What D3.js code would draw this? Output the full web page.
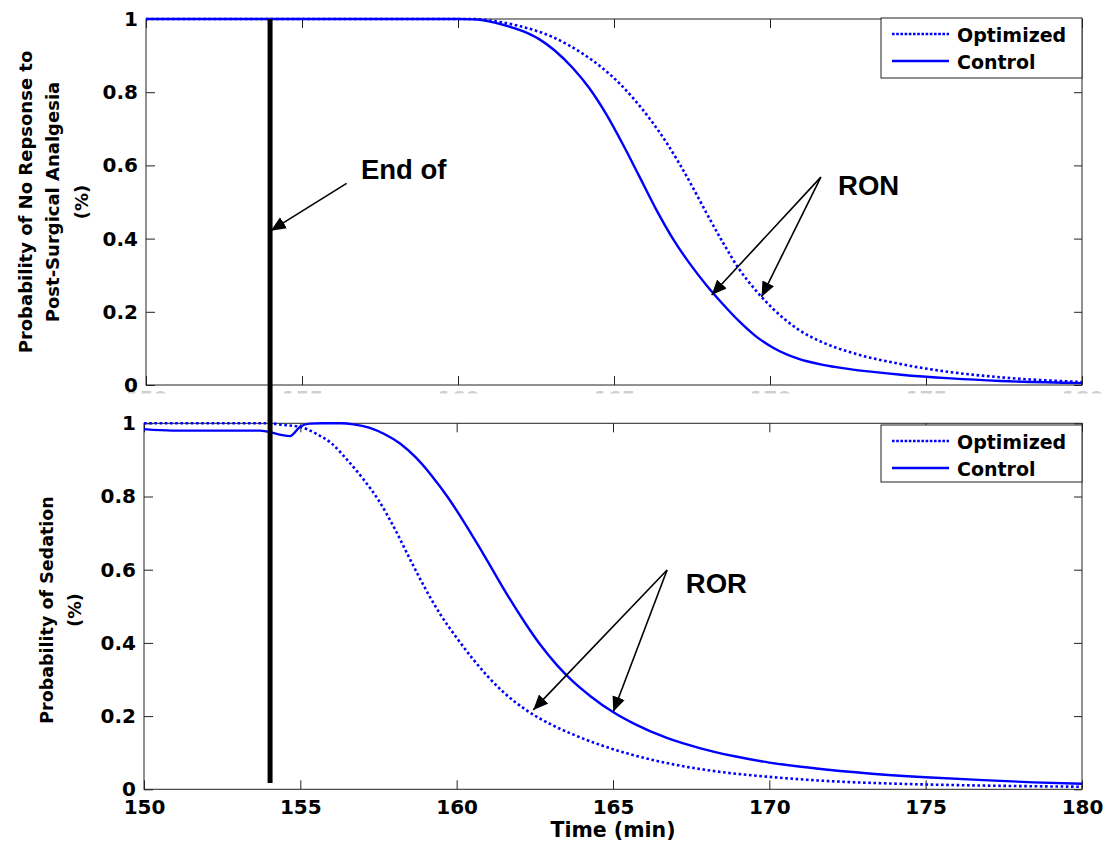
<!DOCTYPE html>
<html><head><meta charset="utf-8">
<script src="https://cdn.jsdelivr.net/npm/d3@7/dist/d3.min.js"></script>
<style>body{margin:0;background:#fff}svg{display:block}</style>
</head><body><svg id="c" width="1119" height="844"></svg>
<script>
// ---------- data ----------
const timeTicks = [150, 155, 160, 165, 170, 175, 180];
const probTicks = [0, 0.2, 0.4, 0.6, 0.8, 1];
const seriesNames = ["Optimized", "Control"];
const xTitle = "Time (min)";
const topYTitle = ["Probability of No Repsonse to", "Post-Surgical Analgesia", "(%)"];
const botYTitle = ["Probability of Sedation", "(%)"];
const endOfSurgery = 154;

// [time (min), probability]
const topOptimized = [[150,1],[160.5,1],[161.0,0.996],[162.0,0.980],[163.0,0.952],[164.0,0.905],[164.6,0.868],[165.2,0.822],[165.6,0.785],[166.15,0.727],[166.7,0.660],[167.1,0.604],[167.55,0.536],[167.95,0.472],[168.5,0.388],[169.0,0.318],[169.55,0.258],[170.1,0.208],[170.9,0.152],[171.7,0.116],[172.55,0.090],[174.2,0.057],[175.8,0.035],[177.4,0.021],[180,0.008]];
const topControl = [[150,1],[160,1],[160.5,0.999],[161.5,0.983],[162.1,0.966],[162.6,0.945],[163.1,0.914],[163.7,0.864],[164.2,0.812],[164.75,0.740],[165.3,0.655],[165.8,0.572],[166.35,0.480],[166.9,0.398],[167.4,0.335],[167.95,0.274],[168.5,0.220],[169.0,0.175],[169.55,0.133],[170.1,0.102],[170.9,0.072],[171.7,0.055],[172.5,0.044],[174.2,0.028],[175.8,0.018],[177.4,0.011],[180,0.005]];
const botOptimized = [[150,1],[154.0,1],[154.4,0.996],[155.0,0.990],[155.5,0.972],[156.0,0.945],[156.5,0.900],[157.0,0.849],[157.5,0.790],[158.0,0.715],[158.5,0.630],[159.0,0.548],[159.5,0.475],[160.0,0.414],[160.5,0.358],[161.0,0.308],[161.5,0.265],[162.25,0.215],[163.0,0.178],[163.8,0.147],[164.6,0.121],[165.5,0.097],[166.7,0.072],[168.3,0.049],[170,0.034],[172,0.022],[174.2,0.015],[176.3,0.011],[180,0.007]];
const botControl = [[150,0.984],[150.9,0.98],[153.7,0.98],[154.67,0.965],[155.0,0.991],[155.3,0.999],[155.7,1],[156.3,1],[156.7,0.997],[157.2,0.988],[157.7,0.970],[158.2,0.944],[158.7,0.906],[159.2,0.857],[159.7,0.800],[160.2,0.735],[160.7,0.665],[161.2,0.592],[161.7,0.520],[162.2,0.453],[162.7,0.392],[163.2,0.340],[163.7,0.296],[164.3,0.253],[165.0,0.211],[165.7,0.178],[166.7,0.141],[167.8,0.112],[168.85,0.091],[170,0.073],[171.5,0.057],[173.1,0.044],[175,0.033],[176.85,0.025],[178.45,0.019],[180,0.015]];

// annotations in data coordinates [time, prob]
const endLabel = {text: "End of", at: [156.89, 0.562], from: [156.43, 0.551], to: [[154.0, 0.4216]]};
const ronLabel = {text: "RON", at: [172.18, 0.519], from: [171.63, 0.568], to: [[168.13, 0.246], [169.73, 0.241]]};
const rorLabel = {text: "ROR", at: [167.33, 0.536], from: [166.73, 0.599], to: [[162.45, 0.217], [165.01, 0.212]]};

// ---------- drawing ----------
const svg = d3.select("#c");
const BLUE = "#0000ff";
const TICKFONT = "'DejaVu Sans', sans-serif";

const defs = svg.append("defs");
defs.append("marker").attr("id","ah").attr("markerUnits","userSpaceOnUse")
  .attr("markerWidth",16).attr("markerHeight",14).attr("refX",15).attr("refY",6.5).attr("orient","auto")
  .append("path").attr("d","M0,0 L15,6.5 L0,13 Z").attr("fill","#000");
defs.append("clipPath").attr("id","hideTop").append("rect").attr("x",0).attr("y",0).attr("width",1119).attr("height",393.5);

const panels = [
  {x:[146,1082], y:[385,19], opt: topOptimized, ctl: topControl, title: topYTitle, titleX:[26,53,82], titleY:202,
   showX:false, legendTop:18, legendH:60, ann:[endLabel, ronLabel]},
  {x:[144,1082], y:[789.3,423.3], opt: botOptimized, ctl: botControl, title: botYTitle, titleX:[47,75], titleY:610,
   showX:true, legendTop:425, legendH:57, ann:[rorLabel]}
];

panels.forEach(p => {
  p.xs = d3.scaleLinear().domain([timeTicks[0], timeTicks[timeTicks.length-1]]).range(p.x);
  p.ys = d3.scaleLinear().domain([0,1]).range(p.y);
});

function drawPanel(p) {
  const g = svg.append("g");
  const [x0,x1] = p.x, [yb,yt] = p.y;
  // frame
  g.append("rect").attr("x",x0).attr("y",yt).attr("width",x1-x0).attr("height",yb-yt)
    .attr("fill","#fff").attr("stroke","#222").attr("stroke-width",1);
  // axes
  const bottomWrap = g.append("g");
  if (!p.showX) bottomWrap.attr("clip-path","url(#hideTop)");
  const bottom = bottomWrap.append("g").attr("transform",`translate(0,${yb})`)
    .call(d3.axisBottom(p.xs).tickValues(timeTicks).tickSize(-9).tickPadding(p.showX?11:6).tickFormat(d3.format("d")));
  const top = g.append("g").attr("transform",`translate(0,${yt})`)
    .call(d3.axisTop(p.xs).tickValues(timeTicks).tickSize(-9).tickFormat(""));
  const left = g.append("g").attr("transform",`translate(${x0},0)`)
    .call(d3.axisLeft(p.ys).tickValues(probTicks).tickSize(-9).tickPadding(8).tickFormat(d => d===0||d===1 ? d3.format("d")(d) : d3.format(".1f")(d)));
  const right = g.append("g").attr("transform",`translate(${x1},0)`)
    .call(d3.axisRight(p.ys).tickValues(probTicks).tickSize(-8).tickFormat(""));
  [bottom,top,left,right].forEach(a => {
    a.select(".domain").remove();
    a.selectAll("line").attr("stroke","#222");
    a.selectAll("text").attr("font-family",TICKFONT).attr("font-weight","bold").attr("font-size",20).attr("fill","#000");
  });
  if (!p.showX) bottom.selectAll("text").attr("fill","#cfcfcf");
  // y title
  p.title.forEach((line,i) => {
    g.append("text").attr("font-family",TICKFONT).attr("font-weight","bold").attr("font-size",p.title.length>2?18:17.5)
      .attr("text-anchor","middle").attr("fill","#000")
      .attr("transform",`translate(${p.titleX[i]},${p.titleY}) rotate(-90)`).attr("dy","0.35em").text(line);
  });
  // curves
  const line = d3.line().x(d => p.xs(d[0])).y(d => p.ys(d[1])).curve(d3.curveMonotoneX);
  g.append("path").datum(p.ctl).attr("d",line).attr("fill","none").attr("stroke",BLUE).attr("stroke-width",2.4);
  g.append("path").datum(p.opt).attr("d",line).attr("fill","none").attr("stroke",BLUE).attr("stroke-width",2.6)
    .attr("stroke-dasharray","2.6,2.6");
  // legend
  const lx = x1 - 201, ly = p.legendTop;
  const lg = g.append("g");
  lg.append("rect").attr("x",lx).attr("y",ly).attr("width",201).attr("height",p.legendH).attr("fill","#fff").attr("stroke","#222");
  seriesNames.forEach((nm,i) => {
    const yy = ly + 16 + i*27;
    lg.append("line").attr("x1",lx+11).attr("x2",lx+68).attr("y1",yy).attr("y2",yy)
      .attr("stroke",BLUE).attr("stroke-width",2.6).attr("stroke-dasharray",i===0?"2.6,1.6":null);
    lg.append("text").attr("x",lx+76).attr("y",yy+1.5).attr("dy","0.35em").attr("font-family",TICKFONT)
      .attr("font-weight","bold").attr("font-size",19).attr("fill","#000").text(nm);
  });
  // x title
  if (p.showX) {
    g.append("text").attr("x",(x0+x1)/2).attr("y",837).attr("text-anchor","middle").attr("font-family",TICKFONT)
      .attr("font-weight","bold").attr("font-size",20.5).attr("fill","#000").text(xTitle);
  }
}
panels.forEach(drawPanel);

// end-of-surgery vertical line spanning both panels
svg.append("line").attr("x1",panels[1].xs(endOfSurgery)+1).attr("x2",panels[1].xs(endOfSurgery)+1)
  .attr("y1",panels[0].ys(1)).attr("y2",panels[1].ys(0.017)).attr("stroke","#000").attr("stroke-width",5);

// annotations
panels.forEach(p => {
  p.ann.forEach(a => {
    a.to.forEach(tp => {
      svg.append("line").attr("x1",p.xs(a.from[0])).attr("y1",p.ys(a.from[1]))
        .attr("x2",p.xs(tp[0])).attr("y2",p.ys(tp[1])).attr("stroke","#000").attr("stroke-width",1.6)
        .attr("marker-end","url(#ah)");
    });
    svg.append("text").attr("x",p.xs(a.at[0])).attr("y",p.ys(a.at[1]))
      .attr("font-family","'Liberation Sans', Arial, sans-serif").attr("font-weight","bold").attr("font-size",27.5)
      .attr("fill","#000").text(a.text);
  });
});
</script></body></html>
